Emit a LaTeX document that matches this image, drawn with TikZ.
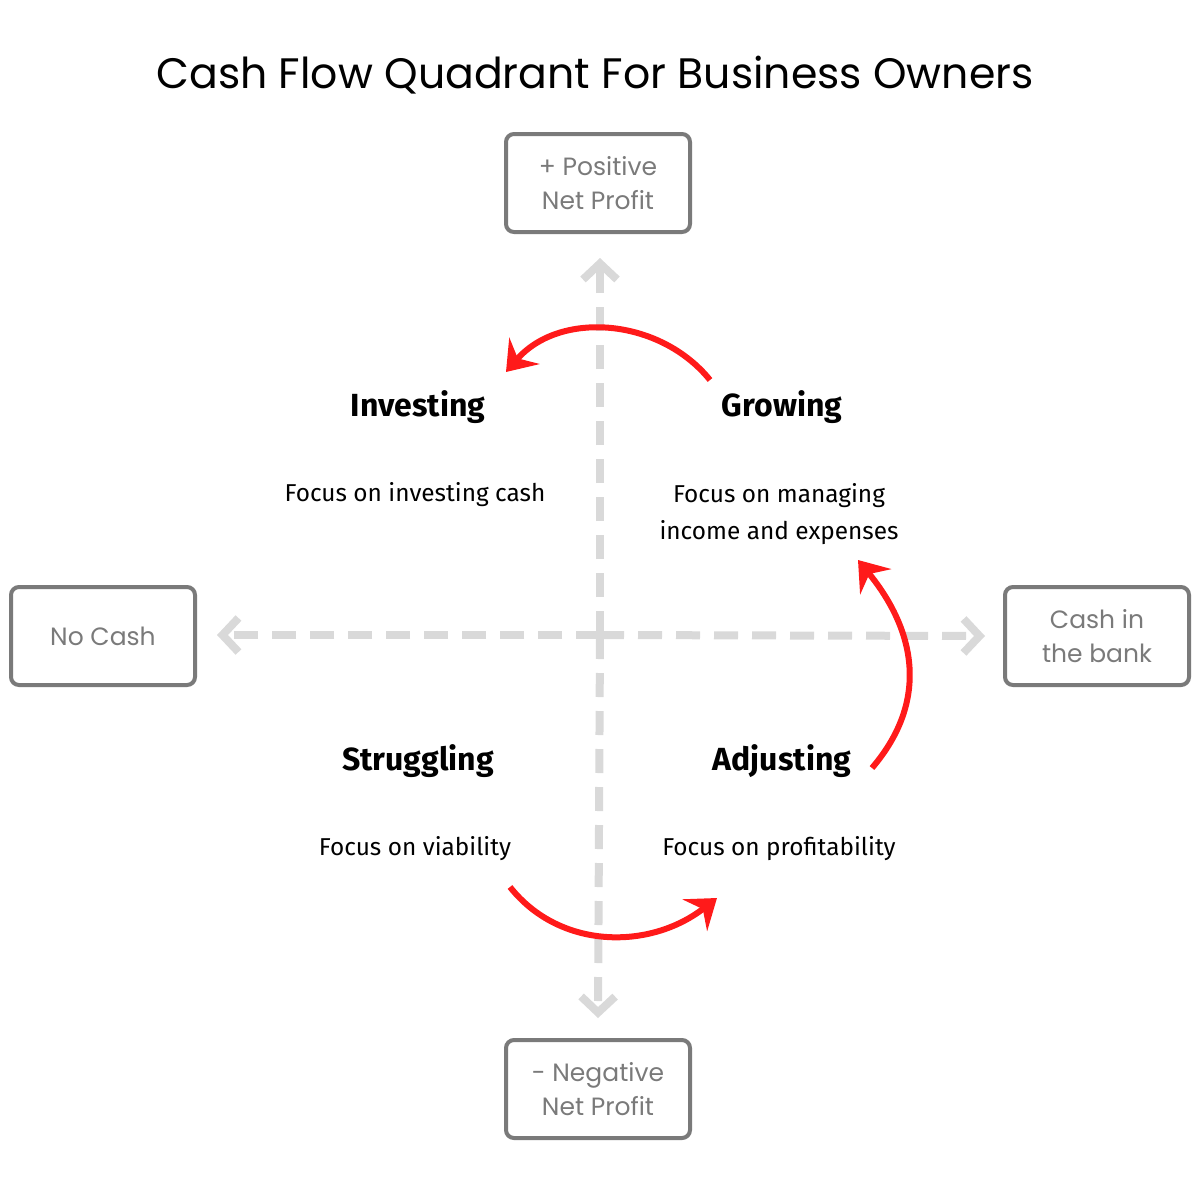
\documentclass[tikz,border=0pt]{standalone}
\usepackage{fontspec}
\setmainfont{Fira Sans}
\newfontfamily\titlefont{Poppins}
\usetikzlibrary{arrows.meta}
\definecolor{boxgray}{RGB}{122,122,122}
\definecolor{axisgray}{RGB}{217,217,217}
\definecolor{flowred}{RGB}{255,26,26}
\tikzset{every picture/.style={line width=0.75pt}}
\tikzset{
  endbox/.style={draw=boxgray, line width=2pt, rounded corners=4pt, minimum width=92pt, minimum height=49pt, align=center, text=boxgray, font=\titlefont\fontsize{12.5}{17}\selectfont},
  axis/.style={draw=axisgray, line width=4pt, dash pattern=on 12pt off 7pt, -{Straight Barb[length=8pt,width=17pt,line width=4pt]}},
  stage/.style={font=\bfseries\fontsize{16}{19}\selectfont},
  focus/.style={align=center, font=\fontsize{12.2}{18.5}\selectfont},
  flow/.style={draw=flowred, line width=3pt, -{Stealth[length=14pt,width=20pt,inset=5pt]}}
}
\begin{document}
\begin{tikzpicture}[x=0.5pt,y=0.5pt,yscale=-1,xscale=1]
\useasboundingbox (0,0) rectangle (1200,1200);

% Title
\node (title) at (595,75) {\titlefont\fontsize{21.3}{25}\selectfont Cash Flow Quadrant For Business Owners};

% End boxes
\node[endbox] (pos) at (598,183) {+ Positive\\Net Profit};
\node[endbox] (neg) at (598,1089) {- Negative\\Net Profit};
\node[endbox] (nocash) at (103,636) {No Cash};
\node[endbox] (bank) at (1097,636) {Cash in\\the bank};

% Axes
\coordinate (c) at (600,635);
\draw[axis] (c) -- (600,258);
\draw[axis] (c) -- (598,1018);
\draw[axis] (c) -- (217,635);
\draw[axis] (c) -- (985,636);

% Stages
\node[stage] (inv) at (418,407) {Investing};
\node[stage] (grow) at (782,407) {Growing};
\node[stage] (strug) at (418,761) {Struggling};
\node[stage] (adj) at (782,761) {Adjusting};
\node[focus] (finv) at (415,495) {Focus on investing cash};
\node[focus] (fgrow) at (779,514) {Focus on managing\\income and expenses};
\node[focus] (fstrug) at (415,849) {Focus on viability};
\node[focus] (fadj) at (779,849) {Focus on profitability};

% Flow arrows
\coordinate (a1) at (710,380);
\coordinate (a2) at (506,372);
\coordinate (b1) at (872,768);
\coordinate (b2) at (858,560);
\coordinate (d1) at (510,887);
\coordinate (d2) at (717,898);
\draw[flow] (a1) .. controls (660,318) and (560,310) .. (a2);
\draw[flow] (b1) .. controls (930,700) and (915,630) .. (b2);
\draw[flow] (d1) .. controls (560,950) and (650,950) .. (d2);
\end{tikzpicture}
\end{document}
